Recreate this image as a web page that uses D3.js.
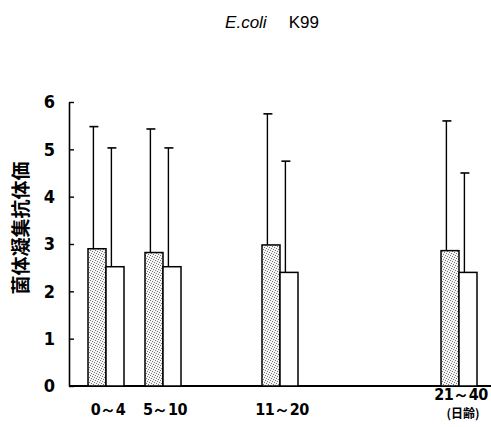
<!DOCTYPE html>
<html>
<head>
<meta charset="utf-8">
<script src="https://d3js.org/d3.v7.min.js"></script>
<style>
  body { margin: 0; background: #fff; }
  svg { display: block; }
  .num { font-family: "DejaVu Sans Condensed", "DejaVu Sans", sans-serif; font-stretch: condensed; font-weight: bold; }
</style>
</head>
<body>
<svg width="491" height="427"></svg>
<script>
// data
var ageGroups = ["0～4", "5～10", "11～20", "21～40"];
var dottedMeans = [2.9, 2.82, 2.98, 2.86];
var dottedSD = [2.58, 2.61, 2.77, 2.74];
var whiteMeans = [2.52, 2.52, 2.4, 2.4];
var whiteSD = [2.51, 2.51, 2.35, 2.1];
var yTicks = [0, 1, 2, 3, 4, 5, 6];

var svg = d3.select("svg");

// stipple pattern for the first bar of each group
var defs = svg.append("defs");
var pat = defs.append("pattern")
    .attr("id", "stipple")
    .attr("width", 5).attr("height", 5)
    .attr("patternUnits", "userSpaceOnUse");
pat.append("rect").attr("width", 5).attr("height", 5).attr("fill", "#f4f4f4");
[[0,0],[2,1],[4,2],[1,3],[3,4]].forEach(function(p){
  pat.append("rect").attr("x", p[0]).attr("y", p[1])
     .attr("width", 1).attr("height", 1).attr("fill", "#777");
});

var y = d3.scaleLinear().domain([0, 6]).range([386, 102]);
// uneven spacing of the age groups along the axis
var x = d3.scaleLinear().domain([0, 1, 2, 3]).range([106, 163, 280, 459]);
var barW = 18;

// title
var title = svg.append("text")
    .attr("x", 272).attr("y", 28)
    .attr("text-anchor", "middle")
    .style("font-family", "Liberation Sans, Arial, sans-serif")
    .style("font-size", "17px");
title.append("tspan").style("font-style", "italic").text("E.coli");
title.append("tspan").attr("dx", 22).text("K99");

// y axis
var yAxis = d3.axisLeft(y)
    .tickValues(yTicks)
    .tickSizeInner(-5)
    .tickSizeOuter(0)
    .tickPadding(14)
    .tickFormat(d3.format("d"));

var gy = svg.append("g")
    .attr("class", "num")
    .attr("transform", "translate(69,0)")
    .call(yAxis);
gy.select(".domain").attr("stroke", "#000").attr("stroke-width", 1.6);
gy.selectAll(".tick line").attr("stroke", "#000").attr("stroke-width", 1.4);
gy.selectAll(".tick text")
  .style("font-size", "18px")
  .attr("fill", "#000");

// y label
svg.append("text")
    .attr("transform", "translate(28,228) rotate(-90)")
    .attr("text-anchor", "middle")
    .style("font-family", "Noto Sans CJK JP, sans-serif")
    .style("font-size", "19px")
    .style("font-weight", "bold")
    .text("菌体凝集抗体価");

// baseline
svg.append("line")
    .attr("x1", 69).attr("x2", 491)
    .attr("y1", y(0)).attr("y2", y(0))
    .attr("stroke", "#000").attr("stroke-width", 1.8);

var groups = svg.selectAll(".grp")
    .data(ageGroups)
    .enter()
    .append("g")
    .attr("class", "grp");

function drawBar(sel, means, sds, offset, fill){
  sel.append("line")
     .attr("x1", function(d, i){ return x(i) + offset + barW * 0.3; })
     .attr("x2", function(d, i){ return x(i) + offset + barW * 0.3; })
     .attr("y1", function(d, i){ return y(means[i]); })
     .attr("y2", function(d, i){ return y(means[i] + sds[i]); })
     .attr("stroke", "#000").attr("stroke-width", 1.4);
  sel.append("line")
     .attr("x1", function(d, i){ return x(i) + offset + barW * 0.3 - 4; })
     .attr("x2", function(d, i){ return x(i) + offset + barW * 0.3 + 5; })
     .attr("y1", function(d, i){ return y(means[i] + sds[i]); })
     .attr("y2", function(d, i){ return y(means[i] + sds[i]); })
     .attr("stroke", "#000").attr("stroke-width", 1.6);
  sel.append("rect")
     .attr("x", function(d, i){ return x(i) + offset; })
     .attr("y", function(d, i){ return y(means[i]); })
     .attr("width", barW)
     .attr("height", function(d, i){ return y(0) - y(means[i]); })
     .attr("fill", fill)
     .attr("stroke", "#000").attr("stroke-width", 1.5);
}

drawBar(groups, dottedMeans, dottedSD, -barW, "url(#stipple)");
drawBar(groups, whiteMeans, whiteSD, 0, "#fff");

// x labels
groups.append("text")
    .attr("class", "num")
    .attr("x", function(d, i){ return x(i) + 2; })
    .attr("y", function(d, i){ return i === 3 ? 400 : 415; })
    .attr("text-anchor", "middle")
    .style("font-size", "16px")
    .style("letter-spacing", "-0.5px")
    .text(function(d){ return d; });

svg.append("text")
    .attr("x", x(3) + 4).attr("y", 418)
    .attr("text-anchor", "middle")
    .style("font-family", "Noto Sans CJK JP, sans-serif")
    .style("font-size", "12px")
    .style("font-weight", "bold")
    .text("(日齢)");
</script>
</body>
</html>
